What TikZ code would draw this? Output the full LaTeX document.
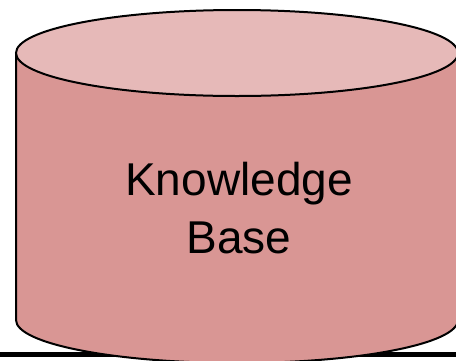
\documentclass[tikz,border=0pt]{standalone}
\usepackage{fontspec}
\setmainfont{Liberation Sans}
\definecolor{kbbody}{HTML}{D99694}
\definecolor{kbtop}{HTML}{E6B9B8}

\begin{document}
\begin{tikzpicture}[x=1pt, y=-1pt, line width=2pt]
    \useasboundingbox (0,0) rectangle (456,360);
    \clip (0,0) rectangle (456,360);
    % ground line
    \coordinate (groundL) at (0,354.5);
    \coordinate (groundR) at (456,354.5);
    \draw[line width=4.5pt] (groundL) -- (groundR);

    % cylinder body
    \fill[kbbody] (16,53) -- (16,320) arc[start angle=180, end angle=0, x radius=221, y radius=43] -- (458,53) -- cycle;
    \draw (16,53) -- (16,320) arc[start angle=180, end angle=0, x radius=221, y radius=43] -- (458,53);

    % cylinder top
    \filldraw[fill=kbtop] (237,53) ellipse[x radius=221, y radius=43];

    % label
    \node[font=\fontsize{46}{58}\selectfont, align=center, inner sep=0pt] (kb) at (239,208) {Knowledge\\Base};
\end{tikzpicture}
\end{document}
